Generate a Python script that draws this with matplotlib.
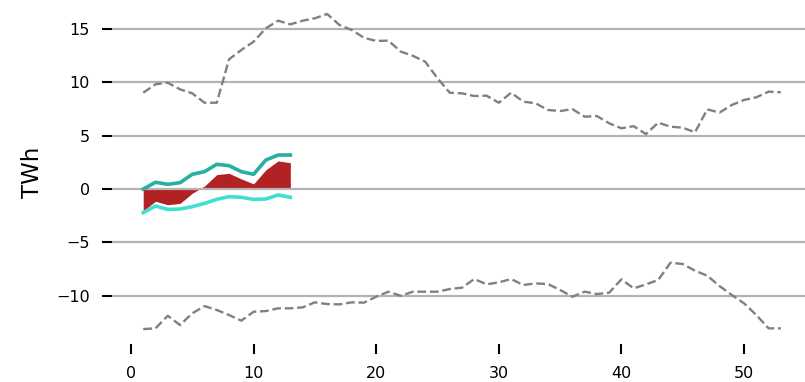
import matplotlib
matplotlib.use("Agg")
import matplotlib.pyplot as plt
import numpy as np

weeks = list(range(1, 54))
max_vals = [9.04, 9.83, 9.98, 9.36, 8.98, 8.10, 8.10, 12.18, 13.05, 13.83,
            15.09, 15.80, 15.46, 15.80, 16.03, 16.43, 15.40, 14.93, 14.20, 13.90,
            13.93, 12.90, 12.50, 11.95, 10.40, 9.04, 8.98, 8.73, 8.76, 8.10,
            9.04, 8.20, 8.05, 7.42, 7.32, 7.50, 6.79, 6.85, 6.17, 5.70,
            5.90, 5.16, 6.23, 5.85, 5.76, 5.32, 7.48, 7.17, 7.89, 8.36,
            8.61, 9.14, 9.08]
min_vals = [-13.15, -13.08, -11.90, -12.77, -11.67, -10.99, -11.36, -11.83, -12.36, -11.52,
            -11.46, -11.20, -11.20, -11.11, -10.64, -10.80, -10.83, -10.64, -10.67, -10.11,
            -9.64, -10.02, -9.64, -9.64, -9.64, -9.39, -9.26, -8.45, -8.95, -8.76,
            -8.45, -9.01, -8.86, -8.92, -9.48, -10.11, -9.64, -9.86, -9.73, -8.48,
            -9.33, -8.95, -8.54, -6.92, -7.04, -7.67, -8.14, -9.11, -9.95, -10.73,
            -11.83, -13.08, -13.08]

cur_weeks = list(range(1, 14))
imports = [0.0, 0.63, 0.44, 0.59, 1.38, 1.63, 2.32, 2.19, 1.63, 1.38, 2.72, 3.19, 3.19]
exports = [-2.22, -1.60, -1.91, -1.88, -1.66, -1.35, -0.97, -0.72, -0.78, -0.97, -0.94, -0.56, -0.78]
net = [-2.05, -1.15, -1.48, -1.35, -0.40, 0.28, 1.35, 1.47, 0.95, 0.48, 1.80, 2.64, 2.47]

yticks = [-10, -5, 0, 5, 10, 15]
xticks = [0, 10, 20, 30, 40, 50]

fig = plt.figure(figsize=(8.05, 3.82), dpi=100)
ax = fig.add_axes([111.7 / 805, (382 - 344) / 382, (805 - 111.7) / 805, (344 - 1) / 382])

ax.fill_between(cur_weeks, 0, net, color="#b22222", linewidth=0)
ax.plot(weeks, max_vals, color="#808080", linestyle="--", linewidth=1.7)
ax.plot(weeks, min_vals, color="#808080", linestyle="--", linewidth=1.7)
ax.plot(cur_weeks, imports, color="#26b0a2", linewidth=2.6)
ax.plot(cur_weeks, exports, color="#40e0d0", linewidth=2.6)

ax.set_xlim(-1.57, 54.97)
ax.set_ylim(-14.55, 17.65)
ax.set_xticks(xticks)
ax.set_yticks(yticks)
ax.yaxis.grid(True, color="#b3b3b3", linewidth=1.6)
for s in ax.spines.values():
    s.set_visible(False)
ax.tick_params(axis="both", direction="out", length=7.2, width=1.5,
               color="black", labelsize=11.5, pad=8.4)
ax.xaxis.set_tick_params(pad=9)
ax.set_ylabel("TWh", fontsize=16.5, labelpad=8.5)

fig.savefig("out.png", dpi=100)
